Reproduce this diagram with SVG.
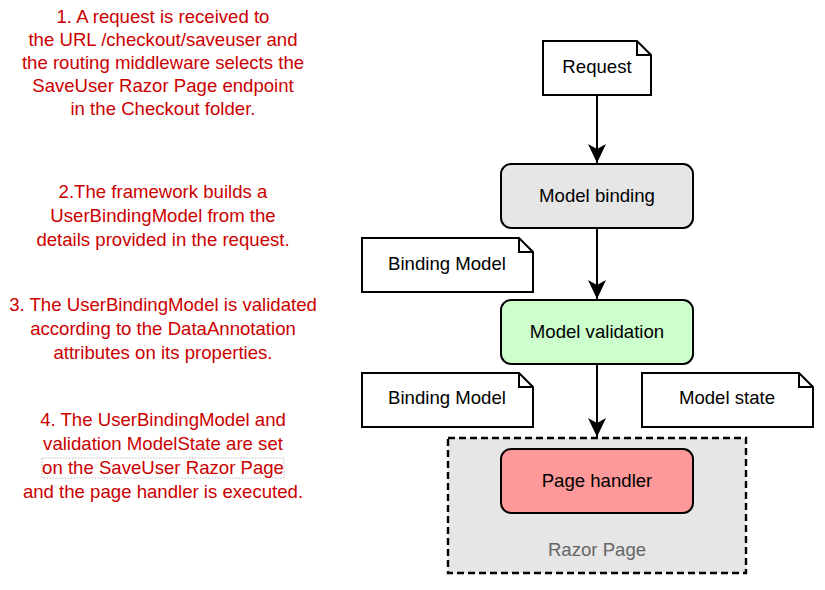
<svg xmlns="http://www.w3.org/2000/svg" width="825" height="590" viewBox="0 0 825 590">
<defs>
<style>
.note{fill:#ffffff;stroke:#000;stroke-width:2}
.lbl{font-family:"Liberation Sans",Arial,sans-serif;font-size:18.6px;fill:#000;text-anchor:middle}
.red{font-family:"Liberation Sans",Arial,sans-serif;font-size:18.6px;fill:#cc0000;text-anchor:middle}
.proc{stroke:#000;stroke-width:2}
.conn{stroke:#000;stroke-width:2;fill:none}
</style>
<marker id="arr" viewBox="0 0 19 18" refX="19" refY="9" markerWidth="19" markerHeight="18" markerUnits="userSpaceOnUse" orient="auto">
<path d="M0,0 L19,9 L0,18 L5,9 Z" fill="#000"/>
</marker>
</defs>
<rect width="825" height="590" fill="#ffffff"/>

<g id="step1">
<text class="red" x="163" y="23">1. A request is received to</text>
<text class="red" x="163" y="46">the URL /checkout/saveuser and</text>
<text class="red" x="163" y="69">the routing middleware selects the</text>
<text class="red" x="163" y="92">SaveUser Razor Page endpoint</text>
<text class="red" x="163" y="115">in the Checkout folder.</text>
</g>
<g id="step2">
<text class="red" x="163" y="198">2.The framework builds a</text>
<text class="red" x="163" y="222">UserBindingModel from the</text>
<text class="red" x="163" y="246">details provided in the request.</text>
</g>
<g id="step3">
<text class="red" x="163" y="311">3. The UserBindingModel is validated</text>
<text class="red" x="163" y="335">according to the DataAnnotation</text>
<text class="red" x="163" y="359">attributes on its properties.</text>
</g>
<g id="step4">
<text class="red" x="163" y="426">4. The UserBindingModel and</text>
<text class="red" x="163" y="450">validation ModelState are set</text>
<rect x="42" y="458" width="242" height="20" fill="none" stroke="#aaaaaa" stroke-width="0.8" stroke-dasharray="1.5,1.5"/>
<text class="red" x="163" y="474">on the SaveUser Razor Page</text>
<text class="red" x="163" y="498">and the page handler is executed.</text>
</g>

<g id="razor-page">
<rect x="448" y="438" width="298" height="135" fill="#e6e6e6" stroke="#000" stroke-width="2.4" stroke-dasharray="7,4"/>
<text class="lbl" x="597" y="556" style="fill:#666666">Razor Page</text>
</g>

<g id="request">
<path class="note" d="M543,41 H637 L651,55 V95 H543 Z"/>
<path d="M637,41 V55 H651" fill="none" stroke="#000" stroke-width="2"/>
<text class="lbl" x="597" y="73">Request</text>
</g>

<g id="model-binding">
<rect class="proc" x="501" y="164" width="192" height="64" rx="10" fill="#e6e6e6"/>
<text class="lbl" x="597" y="202">Model binding</text>
</g>

<g id="binding-model-1">
<path class="note" d="M362,238 H519 L533,252 V292 H362 Z"/>
<path d="M519,238 V252 H533" fill="none" stroke="#000" stroke-width="2"/>
<text class="lbl" x="447" y="270">Binding Model</text>
</g>

<g id="model-validation">
<rect class="proc" x="501" y="300" width="192" height="64" rx="10" fill="#ccffcc"/>
<text class="lbl" x="597" y="338">Model validation</text>
</g>

<g id="binding-model-2">
<path class="note" d="M362,373 H519 L533,387 V427 H362 Z"/>
<path d="M519,373 V387 H533" fill="none" stroke="#000" stroke-width="2"/>
<text class="lbl" x="447" y="404">Binding Model</text>
</g>

<g id="model-state">
<path class="note" d="M642,373 H799 L813,387 V427 H642 Z"/>
<path d="M799,373 V387 H813" fill="none" stroke="#000" stroke-width="2"/>
<text class="lbl" x="727" y="404">Model state</text>
</g>

<g id="page-handler">
<rect class="proc" x="501" y="449" width="192" height="64" rx="10" fill="#ff9999"/>
<text class="lbl" x="597" y="487">Page handler</text>
</g>

<g id="connectors">
<line class="conn" x1="597" y1="95" x2="597" y2="163" marker-end="url(#arr)"/>
<line class="conn" x1="597" y1="228" x2="597" y2="299" marker-end="url(#arr)"/>
<line class="conn" x1="597" y1="364" x2="597" y2="437" marker-end="url(#arr)"/>
</g>
</svg>
